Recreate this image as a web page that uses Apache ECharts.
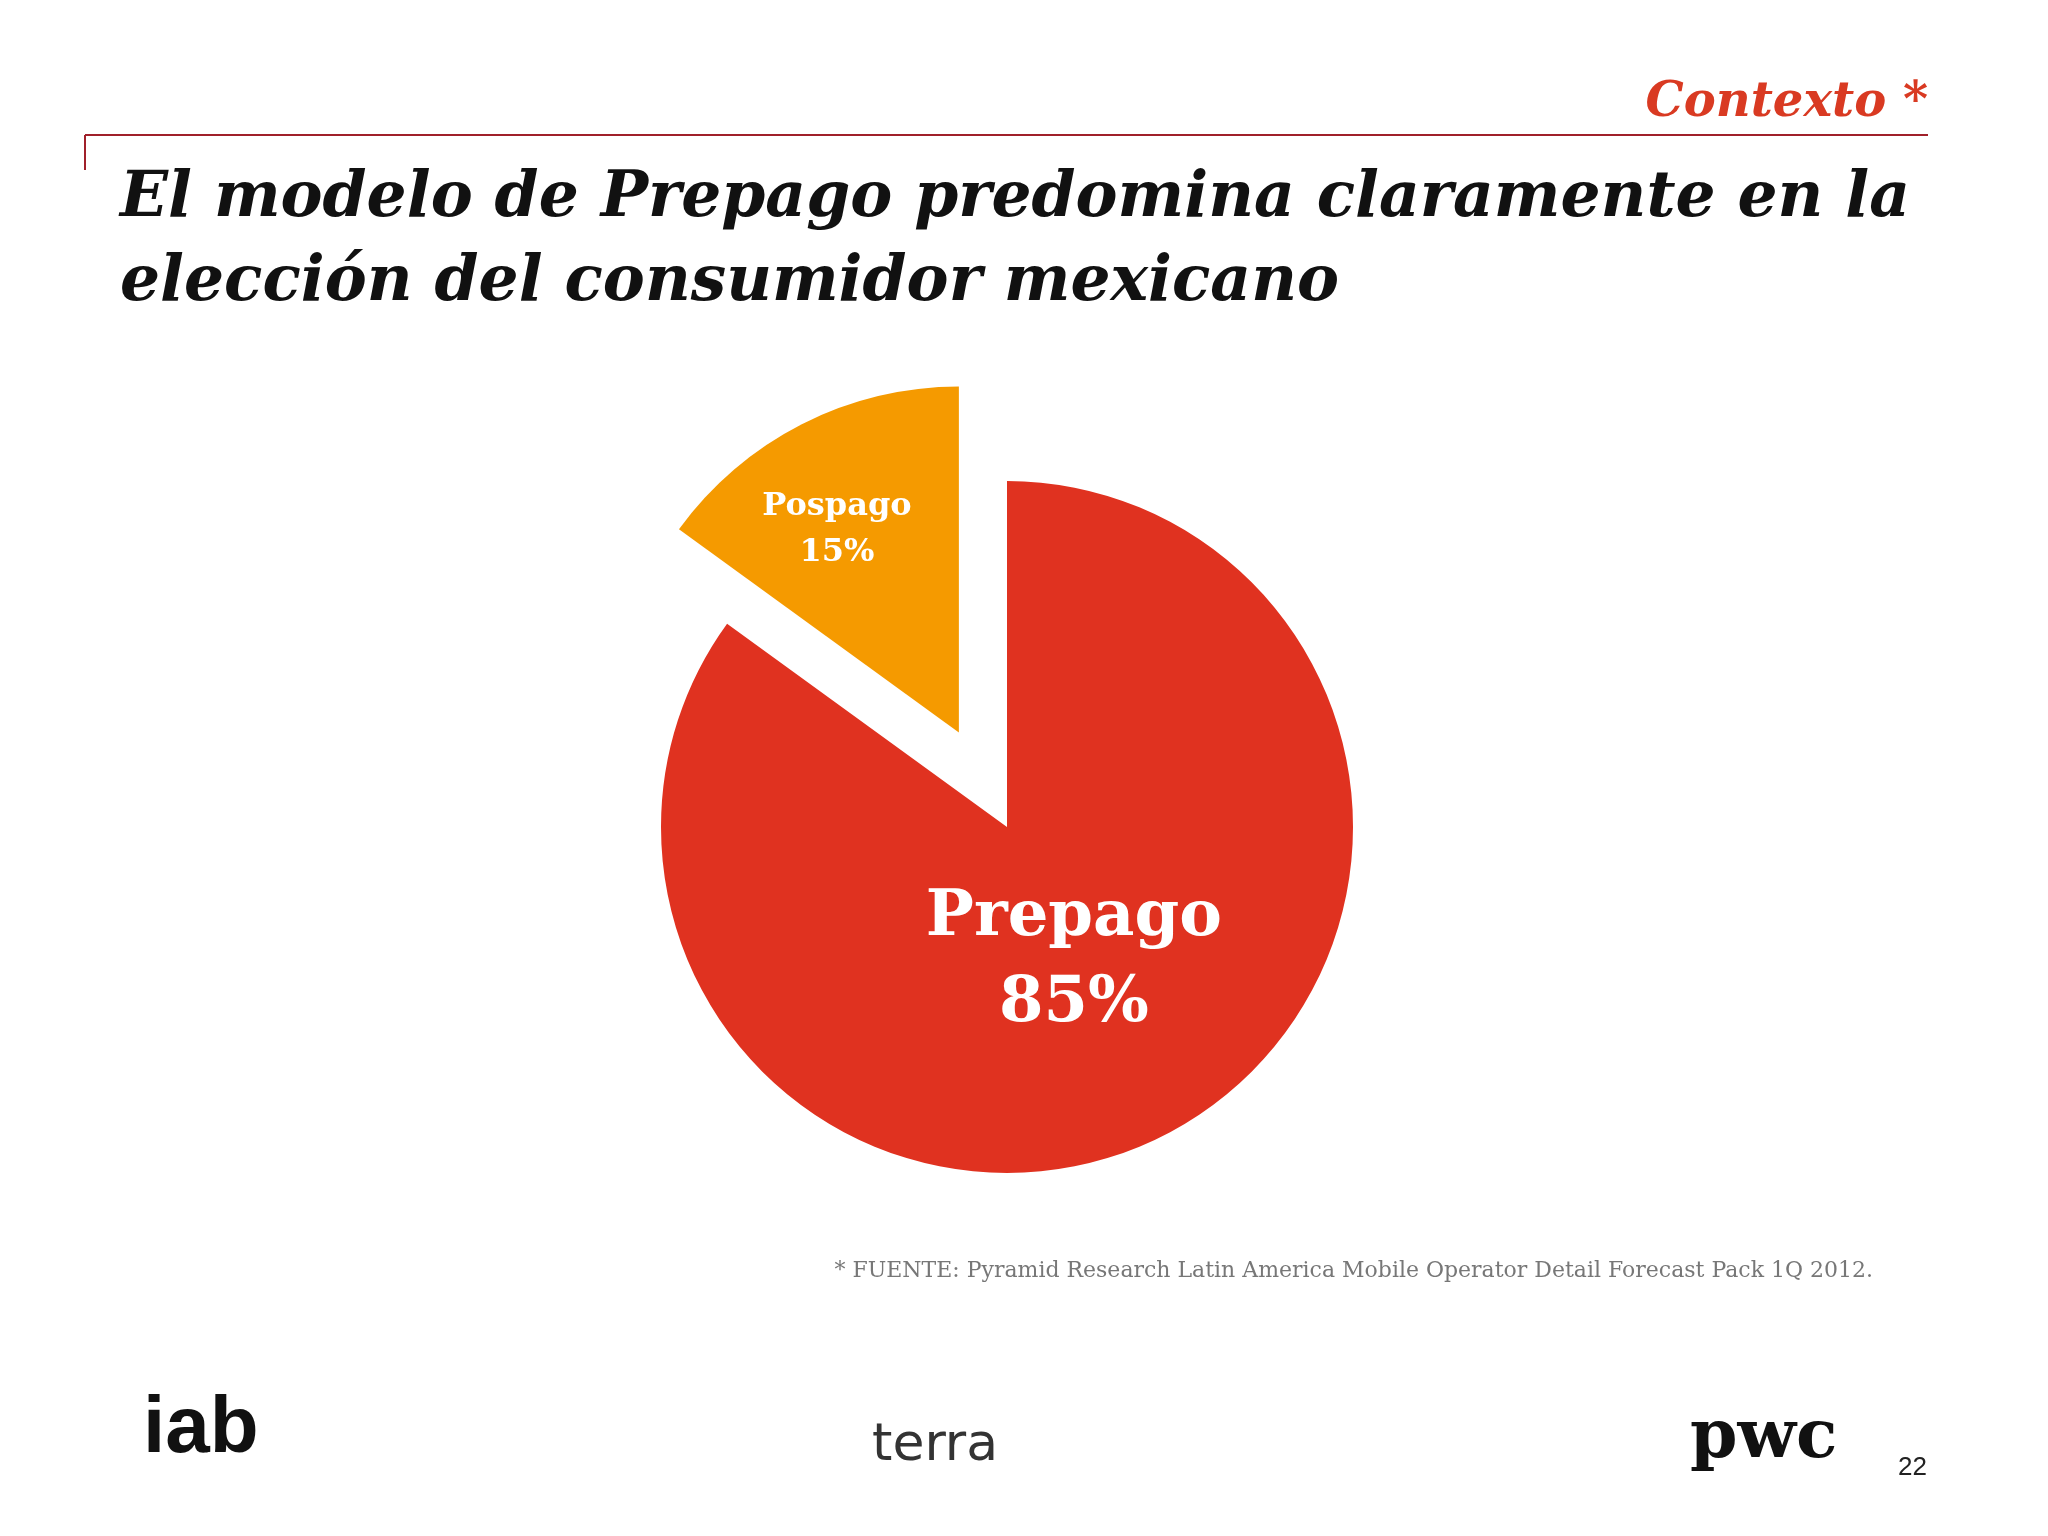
<!DOCTYPE html>
<html><head><meta charset="utf-8">
<script src="https://cdn.jsdelivr.net/npm/echarts@6/dist/echarts.min.js"></script>
<style>html,body{margin:0;padding:0;background:#fff}#c{width:2048px;height:1536px}</style>
</head><body><div id="c"></div>
<script>
const categories = ['Prepago', 'Pospago'];
const values = [85, 15];
const titleLines = ['El modelo de Prepago predomina claramente en la', 'elección del consumidor mexicano'];
const source = '* FUENTE: Pyramid Research Latin America Mobile Operator Detail Forecast Pack 1Q 2012.';

const chart = echarts.init(document.getElementById('c'));
const serif = '"DejaVu Serif", "Liberation Serif", serif';
chart.setOption({
  backgroundColor: '#fff',
  animation: false,
  graphic: [
    {type:'text', right:120, top:80, style:{text:'Contexto *', font:'italic bold 48px '+serif, fill:'#D93A22'}},
    {type:'line', shape:{x1:85,y1:135,x2:1928,y2:135}, style:{stroke:'#A0202A', lineWidth:2}},
    {type:'line', shape:{x1:85,y1:135,x2:85,y2:170}, style:{stroke:'#A0202A', lineWidth:2}},
    {type:'text', left:120, top:158, style:{text:titleLines.join('\n'), font:'italic bold 63px '+serif, lineHeight:84, fill:'#111'}},
    {type:'text', right:175, top:1260, style:{text:source, font:'22px '+serif, fill:'#777'}},
    {type:'text', left:143, top:1390, style:{text:'iab', font:'bold 80px "Liberation Sans", sans-serif', fill:'#111'}},
    {type:'text', left:872, top:1420, style:{text:'terra', font:'52px "DejaVu Sans", sans-serif', fill:'#333'}},
    {type:'text', left:1690, top:1405, style:{text:'pwc', font:'bold 68px '+serif, fill:'#111'}},
    {type:'text', left:1898, top:1455, style:{text:'22', font:'26px "Liberation Sans", sans-serif', fill:'#222'}}
  ],
  series: [{
    type: 'pie',
    center: [1007, 827],
    radius: [0, 346],
    startAngle: 90,
    clockwise: true,
    selectedMode: 'multiple',
    selectedOffset: 106,
    label: {position:'inner', color:'#fff', fontFamily: serif, fontWeight:'bold'},
    labelLine: {show:false},
    emphasis: {disabled:true},
    data: categories.map((n,i)=>({
      name:n, value:values[i], selected: i===1,
      itemStyle:{color: i===0 ? '#E03220' : '#F59A00'},
      label: i===0
        ? {formatter:'{b}\n{d}%\n{s| }', fontSize:64, lineHeight:86, padding:[0,26,0,0], rich:{s:{lineHeight:44, fontSize:10}}}
        : {formatter:'{b}\n{d}%\n\n', fontSize:32, lineHeight:46, padding:[0,84,0,0]}
    }))
  }]
});
</script></body></html>
